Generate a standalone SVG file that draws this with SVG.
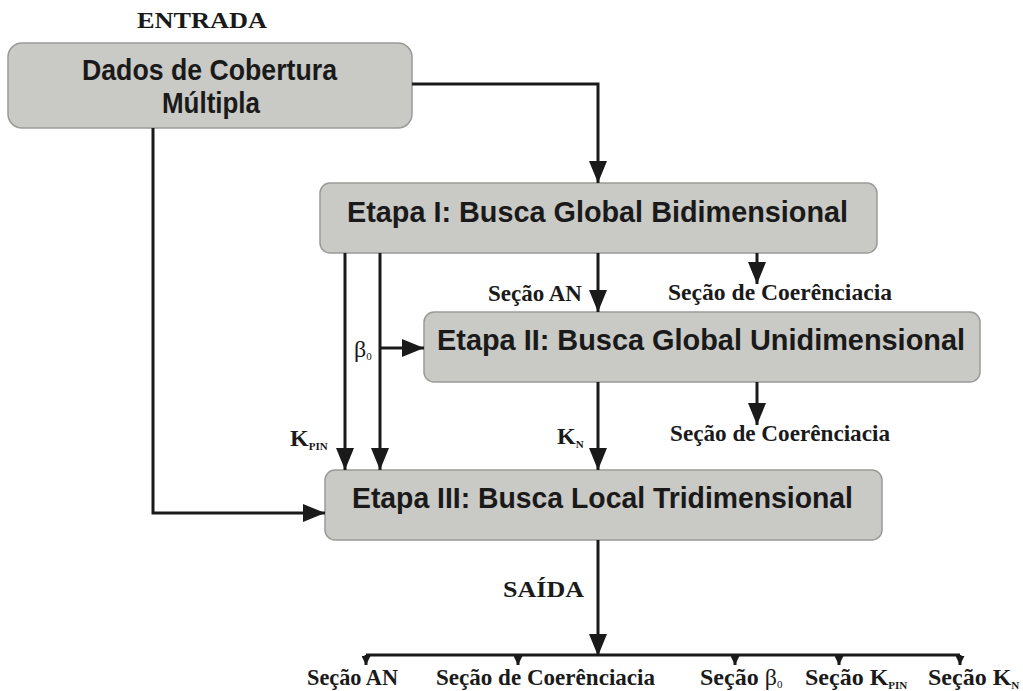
<svg xmlns="http://www.w3.org/2000/svg" width="1023" height="691" viewBox="0 0 1023 691">
<defs>
<marker id="ah" markerUnits="userSpaceOnUse" markerWidth="22" markerHeight="18" refX="22" refY="9" orient="auto"><path d="M0,0 L22,9 L0,18 z" fill="#1a1a1a"/></marker>
<marker id="ahs" markerUnits="userSpaceOnUse" markerWidth="9" markerHeight="9" refX="9" refY="4.5" orient="auto"><path d="M0,0 L9,4.5 L0,9 z" fill="#1a1a1a"/></marker>
</defs>
<style>
.box{fill:#c9c9c5;stroke:#9a9a98;stroke-width:1.5}
.bt{font-family:"Liberation Sans",Arial,sans-serif;font-weight:bold;font-size:30px;fill:#1a1a1a}
.lbl{font-family:"Liberation Serif","Times New Roman",serif;font-weight:bold;font-size:24px;fill:#1a1a1a}
.sym{font-family:"Liberation Serif","Times New Roman",serif;font-weight:normal;font-size:24px;fill:#1a1a1a}
.sub{font-size:11px}
.c{fill:none;stroke:#1a1a1a;stroke-width:3}
.a{marker-end:url(#ah)}
.s{marker-end:url(#ahs)}
</style>
<g id="entrada"><text class="lbl" x="137" y="28" font-size="25" textLength="130" lengthAdjust="spacingAndGlyphs">ENTRADA</text></g>
<g id="n1"><rect class="box" x="8" y="43" width="404" height="85" rx="14"/>
<text class="bt" x="82" y="80" textLength="255" lengthAdjust="spacingAndGlyphs">Dados de Cobertura</text>
<text class="bt" x="162" y="113" textLength="98" lengthAdjust="spacingAndGlyphs">Múltipla</text></g>
<g id="n2"><rect class="box" x="320" y="183" width="557" height="70" rx="10"/>
<text class="bt" x="347" y="222" textLength="501" lengthAdjust="spacingAndGlyphs">Etapa I: Busca Global Bidimensional</text></g>
<g id="n3"><rect class="box" x="424" y="312" width="556" height="70" rx="10"/>
<text class="bt" x="437" y="350" textLength="528" lengthAdjust="spacingAndGlyphs">Etapa II: Busca Global Unidimensional</text></g>
<g id="n4"><rect class="box" x="325" y="470" width="557" height="70" rx="10"/>
<text class="bt" x="352" y="508" textLength="501" lengthAdjust="spacingAndGlyphs">Etapa III: Busca Local Tridimensional</text></g>
<g id="connectors">
<path class="c a" d="M412,84 H598 V183"/>
<path class="c a" d="M153,128 V513 H325"/>
<path class="c a" d="M345,253 V470"/>
<path class="c a" d="M380,253 V470"/>
<path class="c a" d="M380,348 H424"/>
<path class="c a" d="M598,253 V312"/>
<path class="c a" d="M757,253 V284"/>
<path class="c a" d="M598,382 V470"/>
<path class="c a" d="M757,382 V425"/>
<path class="c a" d="M598,540 V656"/>
<path class="c" d="M366,655 H960"/>
<path class="c s" d="M366,655 V665"/>
<path class="c s" d="M518,655 V665"/>
<path class="c s" d="M735,655 V665"/>
<path class="c s" d="M839,655 V665"/>
<path class="c s" d="M960,655 V665"/>
</g>
<g id="labels">
<text class="lbl" x="488" y="301" textLength="94" lengthAdjust="spacingAndGlyphs">Seção AN</text>
<text class="lbl" x="668" y="300" textLength="224" lengthAdjust="spacingAndGlyphs">Seção de Coerênciacia</text>
<text class="sym" x="354" y="357">β<tspan class="sub" dy="3">0</tspan></text>
<text class="lbl" x="290" y="446">K<tspan class="sub" dy="4">PIN</tspan></text>
<text class="lbl" x="670" y="441" textLength="220" lengthAdjust="spacingAndGlyphs">Seção de Coerênciacia</text>
<text class="lbl" x="557" y="444">K<tspan class="sub" dy="4">N</tspan></text>
<text class="lbl" x="503" y="597" textLength="81" lengthAdjust="spacingAndGlyphs">SAÍDA</text>
<text class="lbl" x="307" y="685" textLength="91" lengthAdjust="spacingAndGlyphs">Seção AN</text>
<text class="lbl" x="436" y="685" textLength="219" lengthAdjust="spacingAndGlyphs">Seção de Coerênciacia</text>
<text class="lbl" x="700" y="685">Seção <tspan class="sym">β</tspan><tspan class="sub" font-weight="normal" dy="3">0</tspan></text>
<text class="lbl" x="805" y="685">Seção K<tspan class="sub" dy="4">PIN</tspan></text>
<text class="lbl" x="928" y="685">Seção K<tspan class="sub" dy="4">N</tspan></text>
</g>
</svg>
